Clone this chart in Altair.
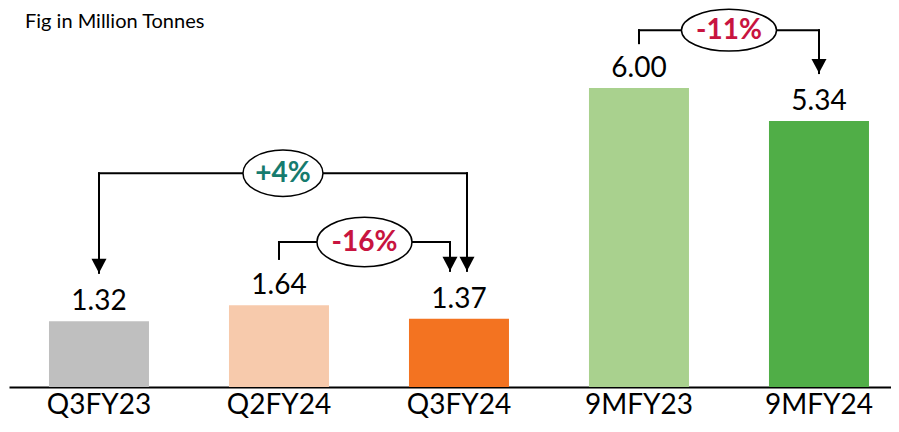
import altair as alt
import pandas as pd

# ---- data ----
categories = ["Q3FY23", "Q2FY24", "Q3FY24", "9MFY23", "9MFY24"]
values = [1.32, 1.64, 1.37, 6.00, 5.34]
value_labels = ["1.32", "1.64", "1.37", "6.00", "5.34"]
bar_colors = ["#BFBFBF", "#F7CAAC", "#F37321", "#A9D18E", "#50AE47"]

change_labels = ["+4%", "-16%", "-11%"]
change_colors = ["#167B6E", "#C8143F", "#C8143F"]
change_from = ["Q3FY23", "Q2FY24", "9MFY23"]
change_to = ["Q3FY24", "Q3FY24", "9MFY24"]
bracket_level = [4.29, 2.91, 7.16]
from_end = [2.29, 2.57, 6.90]
to_end = [2.33, 2.33, 6.30]
from_arrow = [True, False, False]

caption = "Fig in Million Tonnes"

# ---- style / layout constants ----
FONT = "Lato"
STEP = 180
right_off = [8, -9, 0]
ell_w = [80, 95, 95]
ell_ratio = [0.58, 0.52, 0.44]

xscale = alt.Scale(domain=categories, paddingInner=0.444, paddingOuter=0.172, align=0.645)
yscale = alt.Scale(domain=[0, 7.606], nice=False, zero=True)

bars_df = pd.DataFrame({"cat": categories, "y": values, "label": value_labels, "color": bar_colors})

x_axis = alt.Axis(title=None, labelAngle=0, ticks=False, tickSize=0, domainColor="black",
                  domainWidth=2, labelFont=FONT, labelFontSize=28, labelColor="black",
                  labelBaseline="alphabetic", labelPadding=26, grid=False)

bars = alt.Chart(bars_df).mark_bar(size=100).encode(
    x=alt.X("cat:N", scale=xscale, sort=categories, axis=x_axis),
    y=alt.Y("y:Q", scale=yscale, axis=None),
    color=alt.Color("color:N", scale=None),
)

bar_text = alt.Chart(bars_df).mark_text(font=FONT, fontSize=28, color="black",
                                        baseline="alphabetic", dy=-11).encode(
    x=alt.X("cat:N", scale=xscale, sort=categories),
    y=alt.Y("y:Q", scale=yscale),
    text="label:N",
)

ARROW = "M -1 -1.87 L 1 -1.87 L 0 0 Z"
ELLIPSE_TMPL = "M -1 0 A 1 {r} 0 1 1 1 0 A 1 {r} 0 1 1 -1 0 Z"

layers = []
center = {c: i for i, c in enumerate(categories)}
for i in range(len(change_labels)):
    off = right_off[i]
    h_df = pd.DataFrame({"cat": [change_from[i]], "cat2": [change_to[i]], "y": [bracket_level[i]]})
    layers.append(alt.Chart(h_df).mark_rule(color="black", strokeWidth=2, strokeCap="square",
                                            x2Offset=off).encode(
        x=alt.X("cat:N", scale=xscale, sort=categories), x2="cat2:N",
        y=alt.Y("y:Q", scale=yscale)))
    l_df = pd.DataFrame({"cat": [change_from[i]], "y": [bracket_level[i]], "y2": [from_end[i]]})
    layers.append(alt.Chart(l_df).mark_rule(color="black", strokeWidth=2, strokeCap="square").encode(
        x=alt.X("cat:N", scale=xscale, sort=categories),
        y=alt.Y("y:Q", scale=yscale), y2="y2:Q"))
    r_df = pd.DataFrame({"cat": [change_to[i]], "y": [bracket_level[i]], "y2": [to_end[i]]})
    layers.append(alt.Chart(r_df).mark_rule(color="black", strokeWidth=2, strokeCap="square",
                                            xOffset=off).encode(
        x=alt.X("cat:N", scale=xscale, sort=categories),
        y=alt.Y("y:Q", scale=yscale), y2="y2:Q"))
    a_df = pd.DataFrame({"cat": [change_to[i]], "y": [to_end[i]]})
    layers.append(alt.Chart(a_df).mark_point(shape=ARROW, size=225, filled=True, color="black",
                                             opacity=1, xOffset=off).encode(
        x=alt.X("cat:N", scale=xscale, sort=categories),
        y=alt.Y("y:Q", scale=yscale)))
    if from_arrow[i]:
        fa_df = pd.DataFrame({"cat": [change_from[i]], "y": [from_end[i]]})
        layers.append(alt.Chart(fa_df).mark_point(shape=ARROW, size=225, filled=True,
                                                  color="black", opacity=1).encode(
            x=alt.X("cat:N", scale=xscale, sort=categories),
            y=alt.Y("y:Q", scale=yscale)))
    mid_off = ((center[change_to[i]] - center[change_from[i]]) * STEP + off) / 2
    e_df = pd.DataFrame({"cat": [change_from[i]], "y": [bracket_level[i]], "label": [change_labels[i]]})
    layers.append(alt.Chart(e_df).mark_point(shape=ELLIPSE_TMPL.format(r=ell_ratio[i]),
                                             size=ell_w[i] ** 2, filled=True, fill="white",
                                             stroke="black", strokeWidth=1.5, opacity=1,
                                             xOffset=mid_off).encode(
        x=alt.X("cat:N", scale=xscale, sort=categories),
        y=alt.Y("y:Q", scale=yscale)))
    layers.append(alt.Chart(e_df).mark_text(font=FONT, fontSize=28, fontWeight="bold",
                                            color=change_colors[i], baseline="middle",
                                            align="center", xOffset=mid_off, dy=1).encode(
        x=alt.X("cat:N", scale=xscale, sort=categories),
        y=alt.Y("y:Q", scale=yscale),
        text="label:N"))

cap_df = pd.DataFrame({"t": [caption]})
cap = alt.Chart(cap_df).mark_text(font=FONT, fontSize=20, color="black", align="left",
                                  baseline="alphabetic").encode(
    x=alt.value(16), y=alt.value(20), text="t:N")

chart = alt.layer(bars, bar_text, *layers, cap).properties(
    width=882, height=379,
    autosize="none",
    padding={"left": 1, "right": 0, "top": 0, "bottom": 33},
).configure_view(stroke=None)

chart.save("out.html", embed_options={"renderer": "svg", "actions": False})
